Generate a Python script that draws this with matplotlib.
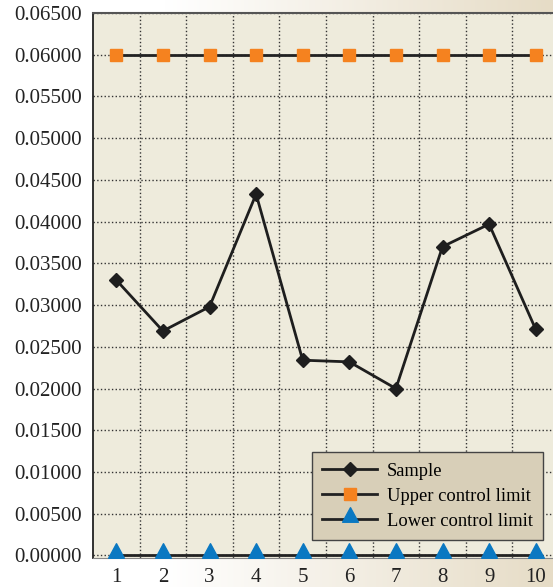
import matplotlib.pyplot as plt
import numpy as np
from matplotlib.colors import LinearSegmentedColormap
from matplotlib.path import Path

# sample number and measured values
samples = [1, 2, 3, 4, 5, 6, 7, 8, 9, 10]
sample_values = [0.0330, 0.0269, 0.0298, 0.0433, 0.0234, 0.0232, 0.0200, 0.0370, 0.0397, 0.0271]
upper_limit = [0.06] * 10
lower_limit = [0.0] * 10

plt.rcParams['font.family'] = ['Liberation Serif', 'DejaVu Serif']

fig = plt.figure(figsize=(5.53, 5.87), dpi=100)

# background: white on the left fading to beige on the right
bg = fig.add_axes([0, 0, 1, 1], zorder=-10)
grad_cmap = LinearSegmentedColormap.from_list(
    'bg', [(0, '#ffffff'), (0.3, '#ffffff'), (1, '#e6dcc6')])
bg.imshow(np.linspace(0, 1, 256).reshape(1, -1), aspect='auto', cmap=grad_cmap,
          extent=[0, 1, 0, 1])
bg.axis('off')

# triangle sitting on the line rather than centred on it
tri = Path([(-1, -0.35), (1, -0.35), (0, 1.5), (-1, -0.35)],
           [Path.MOVETO, Path.LINETO, Path.LINETO, Path.CLOSEPOLY])

ax = fig.add_axes([93 / 553, 29 / 587, 466 / 553, 545 / 587])
ax.set_facecolor('#eeebdc')

ax.plot(samples, upper_limit, color='#222222', lw=2, marker='s', ms=8.4,
        mfc='#f5821f', mec='#f5821f', label='Upper control limit', zorder=3)
ax.plot(samples, lower_limit, color='#222222', lw=2, marker=tri, ms=17,
        mfc='#0a78c2', mec='#0a78c2', label='Lower control limit', zorder=3,
        clip_on=False)
ax.plot(samples, sample_values, color='#1e1e1e', lw=2, marker='D', ms=6.7,
        mfc='#1e1e1e', mec='#1e1e1e', label='Sample', zorder=4)

ax.set_xlim(0.5, 10.5)
ax.set_ylim(-0.0003, 0.065)
ax.set_xticks(samples)
ax.set_xticks(np.arange(1.5, 10, 1), minor=True)
ax.set_yticks(np.arange(0, 0.0651, 0.005))
ax.yaxis.set_major_formatter(plt.FormatStrFormatter('%.5f'))

ax.grid(axis='y', which='major', ls=':', color='#333333', lw=1)
ax.grid(axis='x', which='minor', ls=':', color='#333333', lw=1)
ax.set_axisbelow(True)

ax.tick_params(axis='both', which='both', length=0, labelsize=15, colors='#222222')
ax.tick_params(axis='y', pad=8)
ax.tick_params(axis='x', pad=7)

ax.spines['left'].set_color('#222222')
ax.spines['left'].set_linewidth(1.3)
ax.spines['top'].set_color('#555555')
ax.spines['top'].set_linewidth(1.5)
ax.spines['bottom'].set_color('#888888')
ax.spines['right'].set_visible(False)

handles, labels = ax.get_legend_handles_labels()
order = [2, 0, 1]
leg = ax.legend([handles[i] for i in order], [labels[i] for i in order],
                loc='lower right', bbox_to_anchor=(0.965, 0.033), borderaxespad=0,
                fontsize=13.3, fancybox=False, framealpha=1, facecolor='#d8cfb8',
                edgecolor='#444444', handlelength=3, labelspacing=0.44,
                handletextpad=0.5, borderpad=0.55)
leg.get_frame().set_linewidth(1)
leg.set_zorder(5)

fig.savefig('out.png', dpi=100)
